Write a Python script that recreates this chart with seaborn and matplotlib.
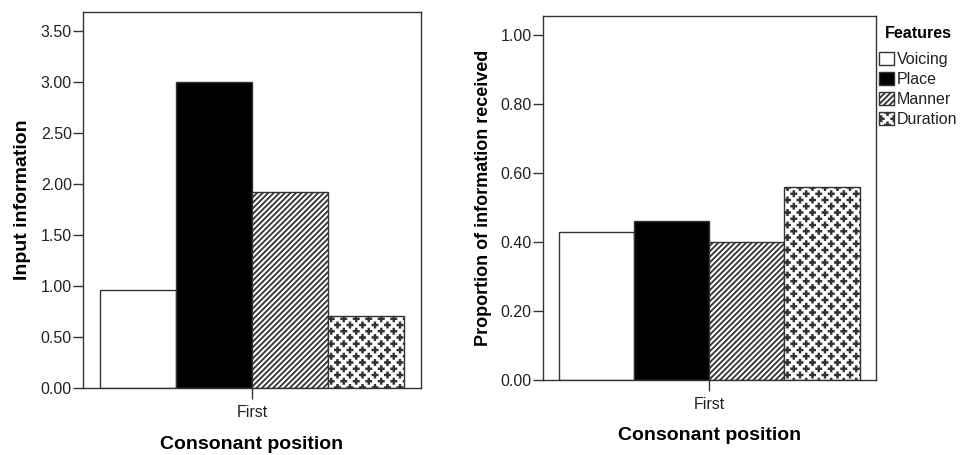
import numpy as np
import pandas as pd
import matplotlib
matplotlib.use("Agg")
import matplotlib.pyplot as plt
import matplotlib.hatch as mhatch
from matplotlib.path import Path
from matplotlib.patches import Patch
import seaborn as sns

# ---- data -------------------------------------------------------------
positions = ["First"]
features = ["Voicing", "Place", "Manner", "Duration"]
input_information = [0.96, 3.00, 1.92, 0.71]
proportion_received = [0.43, 0.46, 0.40, 0.56]
input_ticks = [0.00, 0.50, 1.00, 1.50, 2.00, 2.50, 3.00, 3.50]
proportion_ticks = [0.00, 0.20, 0.40, 0.60, 0.80, 1.00]

fill_colors = {"Voicing": "white", "Place": "black",
               "Manner": "white", "Duration": "white"}
hatches = {"Voicing": "", "Place": "", "Manner": "//////", "Duration": "*"}


# ---- a hatch made of small filled plus signs on a staggered grid ------
class PlusHatch(mhatch.HatchPatternBase):
    filled = True

    def __init__(self, hatch, density):
        n = hatch.count("*")
        self.num_rows = 16 * n
        self.num_cols = 8 * n
        arm, half = 0.026, 0.003
        pts = [(-half, arm), (half, arm), (half, half), (arm, half),
               (arm, -half), (half, -half), (half, -arm), (-half, -arm),
               (-half, -half), (-arm, -half), (-arm, half), (-half, half),
               (-half, arm)]
        self.shape_vertices = np.array(pts, dtype=float)
        self.shape_codes = np.full(len(pts), Path.LINETO, dtype=Path.code_type)
        self.shape_codes[0] = Path.MOVETO
        self.shape_codes[-1] = Path.CLOSEPOLY
        if n == 0:
            self.num_vertices = 0
        else:
            count = 0
            for r in range(self.num_rows + 1):
                count += self.num_cols + 1 if r % 2 == 0 else self.num_cols
            self.num_vertices = count * len(pts)

    def set_vertices_and_codes(self, vertices, codes):
        parts_v, parts_c = [], []
        dx = 1.0 / self.num_cols
        for r in range(self.num_rows + 1):
            y = r / self.num_rows
            if r % 2 == 0:
                xs = np.linspace(0, 1, self.num_cols + 1)
            else:
                xs = np.linspace(dx / 2, 1 - dx / 2, self.num_cols)
            for x in xs:
                parts_v.append(self.shape_vertices + [x, y])
                parts_c.append(self.shape_codes)
        np.concatenate(parts_v, out=vertices)
        np.concatenate(parts_c, out=codes)


mhatch._hatch_types = [t for t in mhatch._hatch_types
                       if t is not mhatch.Stars] + [PlusHatch]

# ---- style ------------------------------------------------------------
sns.set_style("ticks")
plt.rcParams["font.family"] = ["Liberation Sans", "DejaVu Sans"]
plt.rcParams["hatch.linewidth"] = 1.3
edge = "#333333"
text_color = "#222222"

fig = plt.figure(figsize=(9.61, 4.55), dpi=100)
W, H = 961.0, 455.0


def make_axes(left, right, top, bottom):
    return fig.add_axes([left / W, 1 - bottom / H,
                         (right - left) / W, (bottom - top) / H])


ax1 = make_axes(83, 420.5, 12.3, 388)
ax2 = make_axes(542.7, 875.7, 15.7, 380)


def draw_panel(ax, values, ticks, ymax, ylabel, ylabel_size,
               ylabel_x, xlabel_y):
    df = pd.DataFrame({
        "position": np.repeat(positions, len(features)),
        "feature": features * len(positions),
        "value": values,
    })
    sns.barplot(data=df, x="position", y="value", hue="feature",
                hue_order=features, palette=fill_colors, saturation=1,
                edgecolor=edge, linewidth=1.0, width=0.8, gap=0,
                errorbar=None, legend=False, ax=ax)
    for patch, feat in zip(ax.patches, features):
        patch.set_hatch(hatches[feat])
    ax.set_xlim(-0.444, 0.443)
    ax.set_ylim(0, ymax)
    ax.set_yticks(ticks)
    ax.set_yticklabels([f"{t:.2f}" for t in ticks])
    for side in ["left", "right", "top", "bottom"]:
        ax.spines[side].set_visible(True)
        ax.spines[side].set_color(edge)
        ax.spines[side].set_linewidth(1.0)
    ax.tick_params(axis="y", direction="out", length=7, width=1,
                   color=edge, labelsize=11.5, pad=1.0,
                   labelcolor=text_color)
    ax.tick_params(axis="x", direction="out", length=8, width=1,
                   color=edge, labelsize=11.5, pad=4.0,
                   labelcolor=text_color)
    ax.set_xlabel("Consonant position", fontsize=14, fontweight="bold",
                  color="black")
    ax.xaxis.set_label_coords(0.5, xlabel_y)
    ax.set_ylabel(ylabel, fontsize=ylabel_size, fontweight="bold",
                  color="black")
    ax.yaxis.set_label_coords(ylabel_x, 0.5)


draw_panel(ax1, input_information, input_ticks, 3.683,
           "Input information", 14, -0.153, -0.128)
draw_panel(ax2, proportion_received, proportion_ticks, 1.055,
           "Proportion of information received", 13, -0.151, -0.129)

# legend: title as its own text, entries below it
fig.text(918.5 / W, 1 - 33 / H, "Features", ha="center", va="center",
         fontsize=11.5, fontweight="bold", color="black")
handles = [Patch(facecolor=fill_colors[f], edgecolor=edge, linewidth=1.0,
                 hatch=hatches[f], label=f) for f in features]
leg = ax2.legend(handles=handles, loc="upper left",
                 bbox_to_anchor=(879 / W, 1 - 52 / H),
                 bbox_transform=fig.transFigure, frameon=False,
                 fontsize=11.5, handlelength=0.95, handleheight=0.9,
                 handletextpad=0.15, labelspacing=0.3, borderpad=0,
                 borderaxespad=0)
for t in leg.get_texts():
    t.set_color(text_color)

fig.savefig("out.png", dpi=100)
